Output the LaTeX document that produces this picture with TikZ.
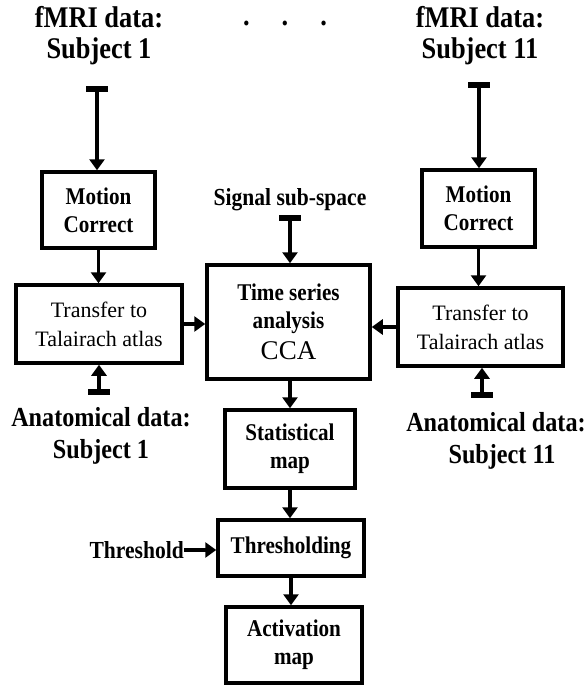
\documentclass[tikz,border=0pt]{standalone}
\usepackage{fontspec}
\setmainfont{Liberation Serif}
\newfontfamily\narrowserif[FakeStretch=0.88]{Liberation Serif}
\usetikzlibrary{arrows.meta}
\tikzset{
  box/.style={draw, line width=3.5pt, align=center, inner sep=0pt, font=\narrowserif\fontsize{24}{28}\selectfont\bfseries},
  plainbox/.style={draw, line width=3.5pt, align=center, inner sep=0pt, font=\fontsize{22}{29}\selectfont},
  lbl/.style={align=center, inner sep=0pt, font=\narrowserif\fontsize{30}{31}\selectfont\bfseries},
  albl/.style={align=center, inner sep=0pt, font=\narrowserif\fontsize{27.5}{32}\selectfont\bfseries},
  slbl/.style={align=center, inner sep=0pt, font=\narrowserif\fontsize{24.5}{28}\selectfont\bfseries},
  flow/.style={line width=3.5pt, -{Triangle[width=15pt,length=11pt]}},
  tflow/.style={line width=3.5pt, {Rectangle[width=22pt,length=6pt]}-{Triangle[width=15pt,length=11pt]}}
}
\begin{document}
\begin{tikzpicture}[x=1pt,y=-1pt]
\useasboundingbox (0,0) rectangle (586,685);
% boxes
\node[box, minimum width=113pt, minimum height=76pt] (mcL) at (98.5,210) {Motion\\Correct};
\node[plainbox, minimum width=166pt, minimum height=78pt] (trL) at (99,324) {Transfer to\\Talairach atlas};
\node[box, minimum width=163pt, minimum height=114pt] (cca) at (288.5,322) {Time series\\analysis\\[3pt]{\normalfont\fontsize{27}{30}\selectfont CCA}};
\node[box, minimum width=113pt, minimum height=77pt] (mcR) at (478.5,208.5) {Motion\\Correct};
\node[plainbox, minimum width=165pt, minimum height=78pt] (trR) at (480.5,327) {Transfer to\\Talairach atlas};
\node[box, minimum width=130pt, minimum height=78pt] (stat) at (290,449) {Statistical\\map};
\node[box, minimum width=146pt, minimum height=56pt] (thr) at (291,548) {Thresholding};
\node[box, minimum width=136pt, minimum height=76pt] (act) at (294,645) {Activation\\map};
% labels
\node[lbl] (fL) at (99,36) {fMRI data:\\Subject 1};
\node[lbl] (fR) at (480,36) {fMRI data:\\Subject 11};
\node[lbl, anchor=base] (dots) at (285,26) {.\hspace{32pt}.\hspace{32pt}.};
\node[slbl] (sig) at (290,200) {Signal sub-space};
\node[albl] (aL) at (101,436) {Anatomical data:\\Subject 1};
\node[albl] (aR) at (496,441) {Anatomical data:\\\hspace{12pt}Subject 11};
\node[slbl, anchor=east] (thl) at (184,550) {Threshold};
% free ends
\coordinate (tL) at (97,86);
\coordinate (tR) at (479,82);
\coordinate (tS) at (290,215);
\coordinate (tAL) at (99,395);
\coordinate (tAR) at (482,398);
% connectors
\draw[tflow] (tL) -- (tL |- mcL.north);
\draw[tflow] (tR) -- (tR |- mcR.north);
\draw[tflow] (tS) -- (tS |- cca.north);
\draw[tflow] (tAL) -- (tAL |- trL.south);
\draw[tflow] (tAR) -- (tAR |- trR.south);
\draw[flow] (mcL.south) -- (mcL.south |- trL.north);
\draw[flow] (mcR.south) -- (mcR.south |- trR.north);
\draw[flow] (trL.east) -- (trL.east -| cca.west);
\draw[flow] (trR.west) -- (trR.west -| cca.east);
\draw[flow] (stat.north |- cca.south) -- (stat.north);
\draw[flow] (stat.south) -- (stat.south |- thr.north);
\draw[flow] (thr.south) -- (thr.south |- act.north);
\draw[flow] (thl.east) -- (thl.east -| thr.west);
\end{tikzpicture}
\end{document}
